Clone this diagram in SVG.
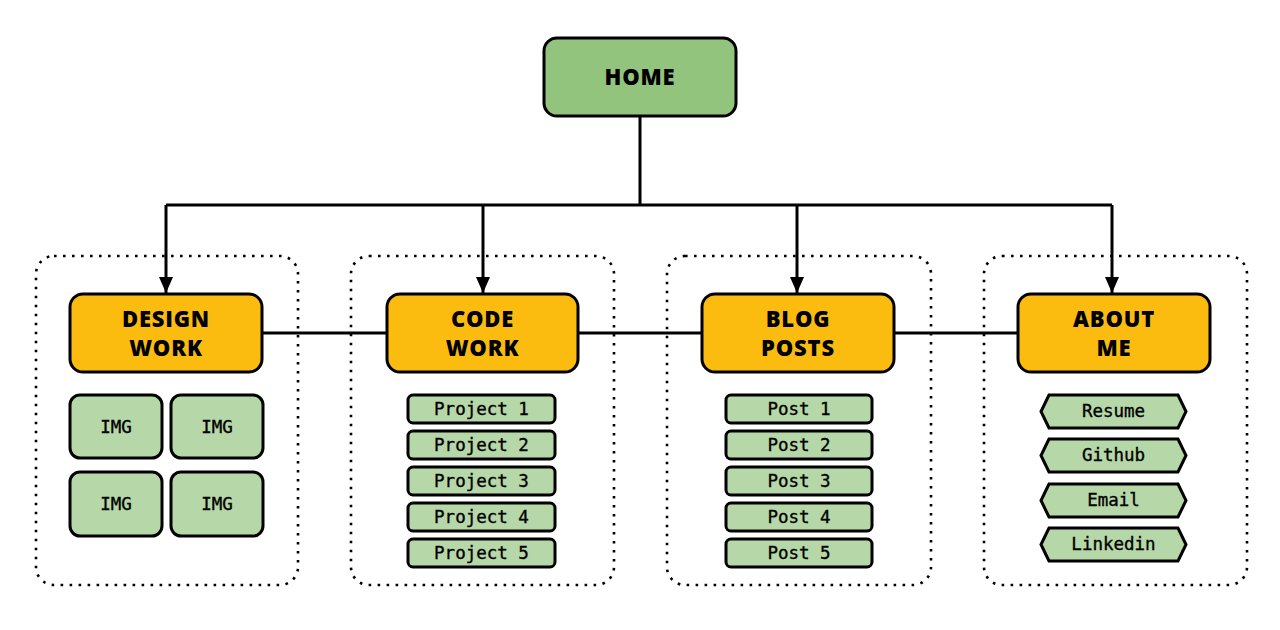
<svg xmlns="http://www.w3.org/2000/svg" width="1280" height="630" viewBox="0 0 1280 630">
<defs>
<marker id="arr" markerWidth="16" markerHeight="14" refX="16" refY="7" orient="auto" markerUnits="userSpaceOnUse" viewBox="0 0 16 14">
<path d="M0,0 L16,7 L0,14 Z" fill="#000"/>
</marker>
<style>
.bg{fill:#fff}
.cont{fill:none;stroke:#000;stroke-width:2.6;stroke-dasharray:2.6 6.4;stroke-linecap:butt}
.home{fill:#93c47d;stroke:#000;stroke-width:3}
.sec{fill:#fbbc0f;stroke:#000;stroke-width:3}
.item{fill:#b6d7a8;stroke:#000;stroke-width:3}
.title{font-family:"Open Sans","Noto Sans",sans-serif;font-weight:800;font-size:22px;letter-spacing:0.8px;fill:#000;text-anchor:middle}
.mono{font-family:"DejaVu Sans Mono","Liberation Mono",monospace;font-size:17.5px;fill:#000;stroke:#000;stroke-width:0.35;text-anchor:middle}
.line{fill:none;stroke:#000;stroke-width:3}
</style>
</defs>
<rect class="bg" x="0" y="0" width="1280" height="630"/>

<g id="containers">
<rect class="cont" x="36" y="256" width="262" height="329" rx="18"/>
<rect class="cont" x="351" y="256" width="263" height="329" rx="18"/>
<rect class="cont" x="667" y="256" width="264" height="329" rx="18"/>
<rect class="cont" x="984" y="256" width="263" height="329" rx="18"/>
</g>

<g id="connectors">
<path class="line" d="M640,116 V205"/>
<path class="line" d="M166,205 H1112"/>
<path class="line" d="M166,205 V293" marker-end="url(#arr)"/>
<path class="line" d="M483,205 V293" marker-end="url(#arr)"/>
<path class="line" d="M797,205 V293" marker-end="url(#arr)"/>
<path class="line" d="M1112,205 V293" marker-end="url(#arr)"/>
<path class="line" d="M262,333 H387"/>
<path class="line" d="M578,333 H702"/>
<path class="line" d="M894,333 H1018"/>
</g>

<g id="home">
<rect class="home" x="544" y="38" width="192" height="78" rx="13"/>
<text class="title" x="640" y="85">HOME</text>
</g>

<g id="design-work">
<rect class="sec" x="70" y="294" width="192" height="78" rx="13"/>
<text class="title" x="166" y="327">DESIGN</text>
<text class="title" x="166" y="356">WORK</text>
</g>
<g id="code-work">
<rect class="sec" x="387" y="294" width="191" height="78" rx="13"/>
<text class="title" x="482.5" y="327">CODE</text>
<text class="title" x="482.5" y="356">WORK</text>
</g>
<g id="blog-posts">
<rect class="sec" x="702" y="294" width="192" height="78" rx="13"/>
<text class="title" x="798" y="327">BLOG</text>
<text class="title" x="798" y="356">POSTS</text>
</g>
<g id="about-me">
<rect class="sec" x="1018" y="294" width="192" height="78" rx="13"/>
<text class="title" x="1114" y="327">ABOUT</text>
<text class="title" x="1114" y="356">ME</text>
</g>

<g id="img-1"><rect class="item" x="70" y="395" width="92" height="63" rx="10"/><text class="mono" x="116" y="433">IMG</text></g>
<g id="img-2"><rect class="item" x="171" y="395" width="92" height="63" rx="10"/><text class="mono" x="217" y="433">IMG</text></g>
<g id="img-3"><rect class="item" x="70" y="472" width="92" height="64" rx="10"/><text class="mono" x="116" y="510">IMG</text></g>
<g id="img-4"><rect class="item" x="171" y="472" width="92" height="64" rx="10"/><text class="mono" x="217" y="510">IMG</text></g>

<g id="project-1"><rect class="item" x="408" y="395" width="147" height="28" rx="5"/><text class="mono" x="481.5" y="415">Project 1</text></g>
<g id="project-2"><rect class="item" x="408" y="431" width="147" height="28" rx="5"/><text class="mono" x="481.5" y="451">Project 2</text></g>
<g id="project-3"><rect class="item" x="408" y="467" width="147" height="28" rx="5"/><text class="mono" x="481.5" y="487">Project 3</text></g>
<g id="project-4"><rect class="item" x="408" y="503" width="147" height="28" rx="5"/><text class="mono" x="481.5" y="523">Project 4</text></g>
<g id="project-5"><rect class="item" x="408" y="539" width="147" height="28" rx="5"/><text class="mono" x="481.5" y="559">Project 5</text></g>

<g id="post-1"><rect class="item" x="726" y="395" width="146" height="28" rx="5"/><text class="mono" x="799" y="415">Post 1</text></g>
<g id="post-2"><rect class="item" x="726" y="431" width="146" height="28" rx="5"/><text class="mono" x="799" y="451">Post 2</text></g>
<g id="post-3"><rect class="item" x="726" y="467" width="146" height="28" rx="5"/><text class="mono" x="799" y="487">Post 3</text></g>
<g id="post-4"><rect class="item" x="726" y="503" width="146" height="28" rx="5"/><text class="mono" x="799" y="523">Post 4</text></g>
<g id="post-5"><rect class="item" x="726" y="539" width="146" height="28" rx="5"/><text class="mono" x="799" y="559">Post 5</text></g>

<g id="resume"><polygon class="item" points="1049,395 1178,395 1186,411.5 1178,428 1049,428 1041,411.5"/><text class="mono" x="1113.5" y="417">Resume</text></g>
<g id="github"><polygon class="item" points="1049,439 1178,439 1186,455.5 1178,472 1049,472 1041,455.5"/><text class="mono" x="1113.5" y="461">Github</text></g>
<g id="email"><polygon class="item" points="1049,484 1178,484 1186,500.5 1178,517 1049,517 1041,500.5"/><text class="mono" x="1113.5" y="506">Email</text></g>
<g id="linkedin"><polygon class="item" points="1049,528 1178,528 1186,544.5 1178,561 1049,561 1041,544.5"/><text class="mono" x="1113.5" y="550">Linkedin</text></g>
</svg>
